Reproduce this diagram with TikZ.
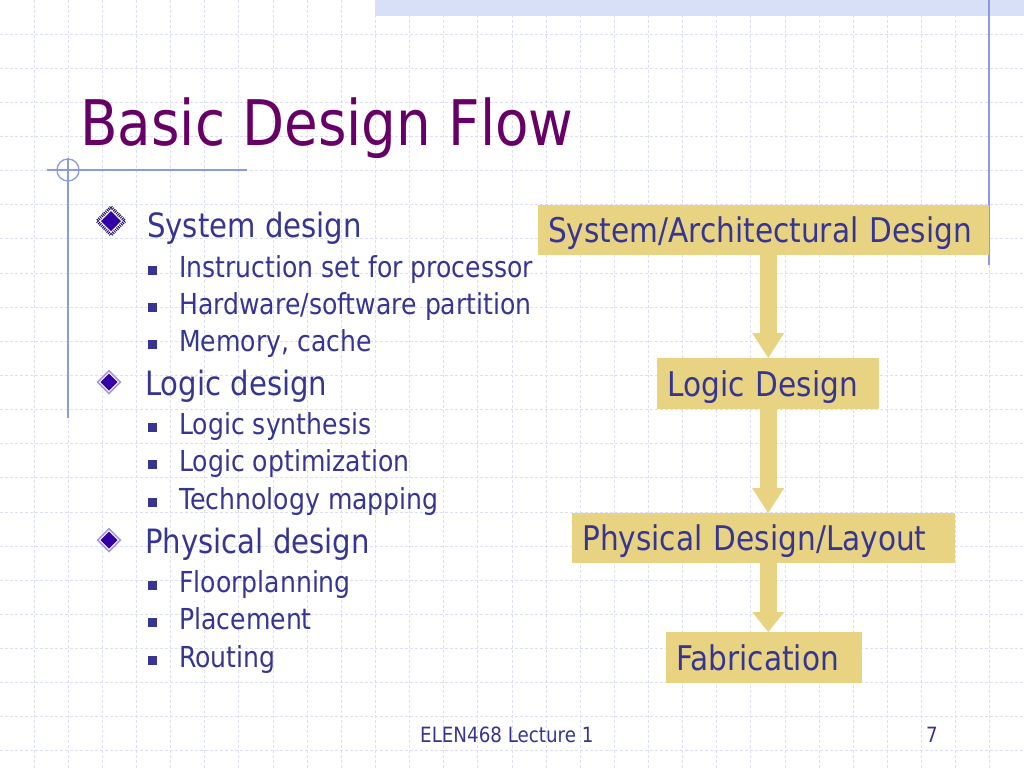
\documentclass[tikz,border=0pt]{standalone}
\usepackage{fontspec}
\setmainfont{DejaVu Sans}[FakeStretch=0.87]
\usetikzlibrary{arrows.meta}
\definecolor{txtblue}{HTML}{363692}
\definecolor{ttlpurple}{HTML}{660066}
\definecolor{gridc}{HTML}{DCDFF4}
\definecolor{boxc}{HTML}{E8D383}
\definecolor{accent}{HTML}{8A9BE0}
\definecolor{bandc}{HTML}{D8E0F7}
\definecolor{dmd}{HTML}{3300A8}
\definecolor{dmdring}{HTML}{1A0C6A}
\definecolor{dmdlav}{HTML}{A898DA}
\begin{document}
\begin{tikzpicture}[x=1pt,y=-1pt,
  l1/.style={anchor=base west, text=txtblue, inner sep=0pt, font=\fontsize{33.5}{40}\selectfont},
  l2/.style={anchor=base west, text=txtblue, inner sep=0pt, font=\fontsize{28.9}{34}\selectfont},
  flowbox/.style={fill=boxc, anchor=north west, text=txtblue, font=\fontsize{34}{40}\selectfont,
     inner xsep=10pt, inner ysep=0pt, align=left, text height=24.8pt, text depth=0pt},
  sqb/.style={fill=txtblue, minimum size=9pt, inner sep=0pt},
  flowarrow/.style={draw=boxc, line width=17pt},
  gridline/.style={gridc, line width=0.9pt, dash pattern=on 3pt off 2pt},
  accentline/.style={accent, line width=1.3pt}]
\fill[white] (0,0) rectangle (1024,768);
\useasboundingbox (0,0) rectangle (1024,768);
% grid
\foreach \i in {1,...,29} \draw[gridline] (\i*34.133,0) -- (\i*34.133,768);
\foreach \j in {1,...,22} \draw[gridline] (0,\j*34.133) -- (1024,\j*34.133);
% top band
\fill[bandc] (375,0) rectangle (1024,16);
% accent lines
\draw[accentline] (47,170) -- (247,170);
\draw[accentline] (68,158) -- (68,418);
\draw[accentline] (68,170) circle (11);
\draw[accentline] (989,0) -- (989,265);
% title
\node[anchor=base west, inner sep=0pt, text=ttlpurple, font=\fontsize{62.9}{70}\selectfont] (title) at (80,145) {Basic Design Flow};
% diamond bullets
\fill[white] (111,205.5) -- (126.5,221) -- (111,236.5) -- (95.5,221) -- cycle;
\draw[dmdring, line width=3pt, dash pattern=on 1pt off 1pt] (111,207) -- (125,221) -- (111,235) -- (97,221) -- cycle;
\fill[dmd] (111,211) -- (121,221) -- (111,231) -- (101,221) -- cycle;
\foreach \yy in {382,540} {
  \fill[dmdlav] (109,\yy-12.5) -- (121.5,\yy) -- (109,\yy+12.5) -- (96.5,\yy) -- cycle;
  \fill[white] (109,\yy-10) -- (119,\yy) -- (109,\yy+10) -- (99,\yy) -- cycle;
  \fill[dmd] (109,\yy-8.5) -- (117.5,\yy) -- (109,\yy+8.5) -- (100.5,\yy) -- cycle;
}
% level 1
\node[l1] (s1) at (147,237) {System design};
\node[l1] (s2) at (145,395) {Logic design};
\node[l1] (s3) at (145,553) {Physical design};
% level 2
\foreach \txt/\yy/\nm in {{Instruction set for processor}/277/a1, {Hardware/software partition}/314/a2,
   {Memory, cache}/351/a3, {Logic synthesis}/434/a4, {Logic optimization}/471/a5,
   {Technology mapping}/509/a6, {Floorplanning}/592/a7, {Placement}/629/a8, {Routing}/667/a9} {
  \node[sqb] (q\nm) at (152.5,\yy-7) {};
  \node[l2] (\nm) at (179,\yy) {\txt};
}
% flow boxes
\node[flowbox, text width=431pt, minimum height=50pt] (b1) at (538,205) {System/Architectural Design};
\node[flowbox, text width=202pt, minimum height=51pt] (b2) at (657,358) {Logic Design};
\node[flowbox, text width=363pt, minimum height=50pt] (b3) at (572,513) {Physical Design/Layout};
\node[flowbox, text width=176pt, minimum height=51pt] (b4) at (666,632) {Fabrication};
% arrows
\draw[flowarrow, -{Triangle[width=32pt,length=25pt,line width=0pt]}] (b2.north |- b1.south) -- (b2.north);
\draw[flowarrow, -{Triangle[width=32pt,length=25pt,line width=0pt]}] (b2.south) -- (b2.south |- b3.north);
\draw[flowarrow, -{Triangle[width=32pt,length=20pt,line width=0pt]}] (b2.south |- b3.south) -- (b2.south |- b4.north);
% footer
\node[anchor=base west, inner sep=0pt, text=txtblue, font=\fontsize{21}{24}\selectfont] (foot) at (420,742) {ELEN468 Lecture 1};
\node[anchor=base, inner sep=0pt, text=txtblue, font=\fontsize{21}{24}\selectfont] (pnum) at (932,742) {7};
\end{tikzpicture}
\end{document}
